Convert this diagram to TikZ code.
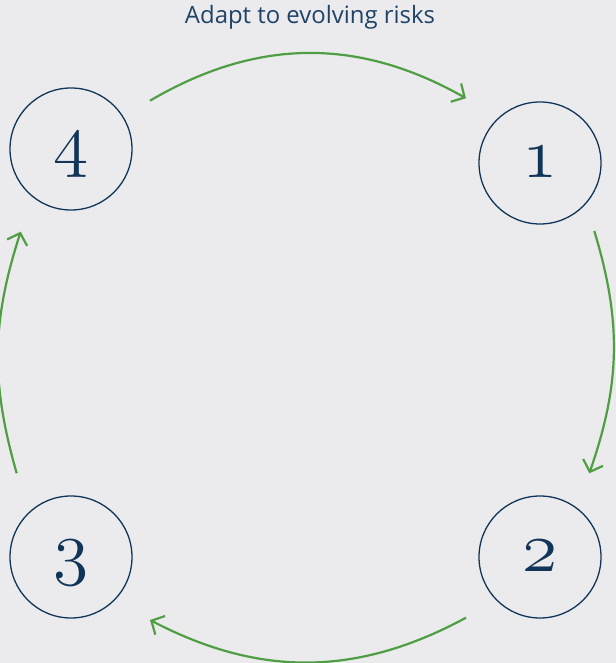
\RequirePackage{fix-cm}
\documentclass[tikz,border=0pt]{standalone}
\usepackage{fontspec}
\newfontfamily\labelfont{Open Sans}
\usetikzlibrary{arrows.meta}
\definecolor{bg}{HTML}{EBEBED}
\definecolor{navy}{HTML}{103559}
\definecolor{txt}{HTML}{1F4268}
\definecolor{grn}{HTML}{4F9E44}
\newcommand{\osdigit}{\fontsize{72}{72}\usefont{OML}{cmm}{m}{it}}
\begin{document}
\begin{tikzpicture}[x=1bp,y=1bp,
  stage/.style={circle, draw=navy, line width=1.3bp, minimum size=122bp, inner sep=0pt},
  digit/.style={text=navy, font=\osdigit, anchor=base, inner sep=0pt},
  cyc/.style={draw=grn, line width=2.2bp, -{Straight Barb[length=10bp,width=21bp]}}]
\fill[bg] (0,0) rectangle (616,663);
\useasboundingbox (0,0) rectangle (616,663);

\node[font=\labelfont\fontsize{24}{28}\selectfont, text=txt, anchor=base, inner sep=0pt] (title) at (310,639) {Adapt to evolving risks};

\node[stage] (n4) at (71,514) {};
\node[stage] (n1) at (540,500) {};
\node[stage] (n3) at (71,106) {};
\node[stage] (n2) at (540,106) {};

\node[digit] (d4) at (71,499.5) {4};
\node[digit] (d1) at (540,485.5) {1};
\node[digit] (d3) at (71,91.5) {3};
\node[digit] (d2) at (540,91.5) {2};

\coordinate (a1s) at (150,562.3);
\coordinate (a1e) at (466,564.7);
\coordinate (a2s) at (594.3,432);
\coordinate (a2e) at (589.3,189.7);
\coordinate (a3s) at (466,45.3);
\coordinate (a3e) at (150,43);
\coordinate (a4s) at (16.7,189.7);
\coordinate (a4e) at (20.7,431.3);

\draw[cyc] (a1s) to[bend left=30] (a1e);
\draw[cyc] (a2s) to[bend left=18] (a2e);
\draw[cyc] (a3s) to[bend left=28] (a3e);
\draw[cyc] (a4s) to[bend left=17] (a4e);
\end{tikzpicture}
\end{document}
